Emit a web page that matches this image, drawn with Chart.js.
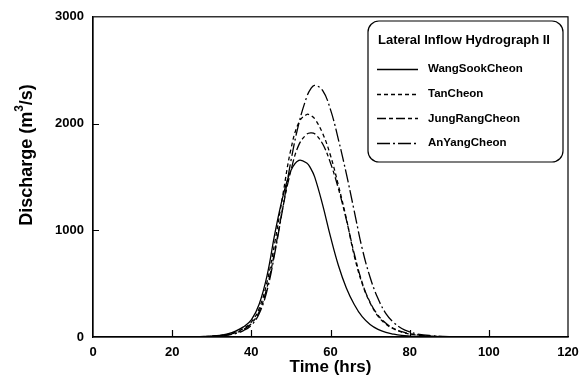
<!DOCTYPE html>
<html>
<head>
<meta charset="utf-8">
<script src="https://cdn.jsdelivr.net/npm/chart.js@4.4.1/dist/chart.umd.min.js"></script>
<style>
  html, body { margin: 0; padding: 0; background: #fff; }
</style>
</head>
<body>
<canvas id="hydroPlot" width="588" height="385"></canvas>
<script>
// time axis (hrs) and discharge (m3/s)
const times = [0, 10, 20, 26, 28, 30, 32, 34, 36, 38, 40, 42, 44, 46, 48, 50, 52, 54, 55, 56, 58, 60,
               62, 64, 66, 68, 70, 72, 74, 76, 78, 80, 82, 85, 90, 95, 100];
const wangSookCheon = [0, 0, 1, 3, 5, 9, 16, 30, 55, 95, 160, 310, 580, 980, 1320, 1560, 1655, 1630, 1580, 1500, 1240, 940,
                       670, 460, 305, 190, 118, 72, 43, 26, 15, 9, 5, 3, 1, 0, 0];
const tanCheon = [0, 0, 1, 2, 4, 7, 13, 24, 45, 80, 140, 270, 520, 900, 1340, 1760, 2010, 2085, 2075, 2045, 1910, 1700,
                  1420, 1110, 760, 500, 320, 195, 120, 75, 45, 28, 17, 8, 2, 1, 0];
const jungRangCheon = [0, 0, 1, 2, 3, 6, 11, 20, 38, 70, 125, 240, 470, 820, 1220, 1560, 1800, 1900, 1913, 1905, 1810, 1630,
                       1390, 1100, 780, 510, 325, 205, 128, 80, 50, 31, 19, 9, 3, 1, 0];
const anYangCheon = [0, 0, 1, 2, 3, 5, 9, 17, 32, 60, 110, 220, 440, 800, 1220, 1650, 2000, 2250, 2325, 2358, 2310, 2130,
                     1850, 1530, 1180, 830, 560, 360, 220, 135, 80, 48, 28, 14, 4, 1, 0];

const seriesNames = ['WangSookCheon', 'TanCheon', 'JungRangCheon', 'AnYangCheon'];
const seriesValues = [wangSookCheon, tanCheon, jungRangCheon, anYangCheon];
const seriesDashes = [[], [4, 3], [9, 3, 4, 3], [13, 3, 2, 3]];
const legendTitle = 'Lateral Inflow Hydrograph II';

const FONT = 'Arial, "Liberation Sans", sans-serif';

// box, inward ticks and the y title with superscript
const framePlugin = {
  id: 'frame',
  afterDraw(chart) {
    const ctx = chart.ctx;
    const a = chart.chartArea;
    const xs = chart.scales.x, ys = chart.scales.y;
    ctx.save();
    ctx.strokeStyle = '#000';
    ctx.lineWidth = 1.2;
    ctx.strokeRect(a.left, a.top, a.right - a.left, a.bottom - a.top);
    ctx.beginPath();
    xs.ticks.forEach(t => {
      const px = Math.round(xs.getPixelForValue(t.value)) + 0.5;
      if (t.value > xs.min && t.value < xs.max) {
        ctx.moveTo(px, a.bottom);
        ctx.lineTo(px, a.bottom - 7);
      }
    });
    ys.ticks.forEach(t => {
      const py = Math.round(ys.getPixelForValue(t.value)) + 0.5;
      if (t.value > ys.min && t.value < ys.max) {
        ctx.moveTo(a.left, py);
        ctx.lineTo(a.left + 6, py);
      }
    });
    ctx.stroke();

    // y axis title
    ctx.translate(27, 155);
    ctx.rotate(-Math.PI / 2);
    ctx.fillStyle = '#000';
    ctx.textBaseline = 'middle';
    ctx.textAlign = 'left';
    const big = 'bold 18px ' + FONT, small = 'bold 12px ' + FONT;
    const p1 = 'Discharge (m', p2 = '3', p3 = '/s)';
    ctx.font = big;
    const w1 = ctx.measureText(p1).width, w3 = ctx.measureText(p3).width;
    ctx.font = small;
    const w2 = ctx.measureText(p2).width;
    let x = -(w1 + w2 + w3) / 2;
    ctx.font = big;
    ctx.fillText(p1, x, 0);
    x += w1;
    ctx.font = small;
    ctx.fillText(p2, x, -7);
    x += w2;
    ctx.font = big;
    ctx.fillText(p3, x, 0);
    ctx.restore();
  }
};

// rounded legend box inside the plot
const legendPlugin = {
  id: 'boxLegend',
  afterDraw(chart) {
    const ctx = chart.ctx;
    const left = 368, top = 21, right = 563, bottom = 162;
    ctx.save();
    ctx.strokeStyle = '#000';
    ctx.lineWidth = 1.2;
    ctx.fillStyle = '#fff';
    ctx.beginPath();
    ctx.roundRect(left, top, right - left, bottom - top, 11);
    ctx.fill();
    ctx.stroke();

    ctx.fillStyle = '#000';
    ctx.textBaseline = 'middle';
    ctx.textAlign = 'left';
    ctx.font = 'bold 13px ' + FONT;
    ctx.fillText(legendTitle, 378, 40);

    ctx.font = 'bold 11.5px ' + FONT;
    chart.data.datasets.forEach((ds, i) => {
      const y = 69 + i * 24.7;
      ctx.beginPath();
      ctx.setLineDash(ds.borderDash || []);
      ctx.lineWidth = 1.3;
      ctx.moveTo(377, Math.round(y) + 0.5);
      ctx.lineTo(418, Math.round(y) + 0.5);
      ctx.stroke();
      ctx.setLineDash([]);
      ctx.fillText(ds.label, 428, y);
    });
    ctx.restore();
  }
};

const ctx = document.getElementById('hydroPlot').getContext('2d');
new Chart(ctx, {
  type: 'line',
  data: {
    datasets: seriesNames.map((name, i) => ({
      label: name,
      data: times.map((t, j) => ({ x: t, y: seriesValues[i][j] })),
      borderColor: '#000',
      borderWidth: 1.3,
      borderDash: seriesDashes[i],
      pointRadius: 0,
      fill: false,
      tension: 0.4
    }))
  },
  options: {
    responsive: false,
    animation: false,
    devicePixelRatio: 1,
    layout: { padding: { left: 13, right: 20, top: 15, bottom: 4 } },
    plugins: {
      legend: { display: false },
      tooltip: { enabled: false }
    },
    scales: {
      x: {
        type: 'linear',
        min: 0,
        max: 120,
        ticks: { stepSize: 20, color: '#000', font: { family: FONT, weight: 'bold', size: 13 }, padding: 8, maxRotation: 0 },
        grid: { display: false, drawTicks: false },
        border: { display: true, color: '#000', width: 1.2 },
        title: { display: true, text: 'Time (hrs)', color: '#000', font: { family: FONT, weight: 'bold', size: 17 }, padding: { top: 0, bottom: 3 } },
        afterFit: s => { s.height = 44; }
      },
      y: {
        min: 0,
        max: 3000,
        ticks: { stepSize: 1000, color: '#000', font: { family: FONT, weight: 'bold', size: 13 }, padding: 9,
                 callback: v => String(v) },
        grid: { display: false, drawTicks: false },
        border: { display: true, color: '#000', width: 1.2 },
        afterFit: s => { s.width = 80; }
      }
    }
  },
  plugins: [framePlugin, legendPlugin]
});
</script>
</body>
</html>
